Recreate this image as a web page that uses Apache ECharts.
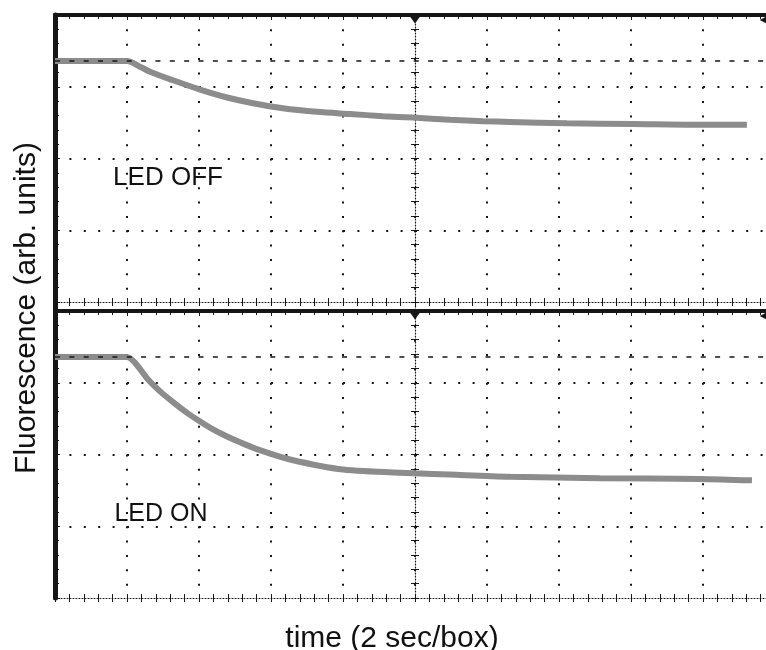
<!DOCTYPE html>
<html>
<head>
<meta charset="utf-8">
<script src="https://cdn.jsdelivr.net/npm/echarts@6/dist/echarts.min.js"></script>
<style>
  html, body { margin: 0; padding: 0; background: #fff; }
  #chart { width: 766px; height: 650px; }
</style>
</head>
<body>
<div id="chart"></div>
<script>
// time in seconds (2 s per box, trigger at 0), level in screen divisions
const offTime  = [-10, -8, -7.64, -7.36, -6.72, -5.97, -5.22, -4.5, -3.67, -2.72, -1.81, -0.89, -0.06, 0.97, 1.89, 2.64, 4.22, 6.06, 7.92, 9.22];
const offLevel = [3.36, 3.36, 3.28, 3.21, 3.09, 2.96, 2.85, 2.77, 2.70, 2.65, 2.62, 2.59, 2.57, 2.54, 2.52, 2.51, 2.49, 2.48, 2.47, 2.47];

const onTime  = [-10, -8, -7.78, -7.44, -7.08, -6.72, -6.33, -5.97, -5.61, -5.22, -4.86, -4.31, -3.47, -2.0, -0.03, 0.97, 2.64, 5.14, 7.92, 9.36];
const onLevel = [3.36, 3.36, 3.28, 3.06, 2.88, 2.73, 2.58, 2.46, 2.35, 2.25, 2.17, 2.06, 1.93, 1.79, 1.74, 1.72, 1.69, 1.67, 1.66, 1.64];

const cursorLevel = 3.36;
const panelLabels = ["LED OFF", "LED ON"];
const xTitle = "time (2 sec/box)";
const yTitle = "Fluorescence (arb. units)";

const ink = "#161616";
const traceColor = "#8c8c8c";
const font = '"Liberation Sans", Arial, sans-serif';
const panelTop = [15, 311];
const panelHeight = 287;
const tickStyle = { color: ink, width: 1 };
const minor = { show: true, splitNumber: 5, length: 4, lineStyle: tickStyle };

const grid = [], xAxis = [], yAxis = [], series = [];
const traces = [[offTime, offLevel], [onTime, onLevel]];

panelTop.forEach((top, p) => {
  grid.push({ left: 55, right: -9, top: top, height: panelHeight, outerBoundsMode: "none" });
  const xb = { gridIndex: p, type: "value", min: -10, max: 10, interval: 2, axisLabel: { show: false } };
  const gx = xAxis.length;
  xAxis.push(
    // centre graticule line along the bottom, ticks down
    Object.assign({}, xb, {
      position: "bottom",
      axisLine: { show: true, onZero: false, lineStyle: { color: ink, width: 1, type: [1, 2] } },
      axisTick: { show: true, length: 4, lineStyle: tickStyle },
      minorTick: minor,
      splitLine: { show: true, showMinLine: false, lineStyle: { color: ink, width: 2, type: [2, 12.35] } }
    }),
    // same line, ticks up
    Object.assign({}, xb, {
      position: "bottom",
      axisLine: { show: false, onZero: false },
      axisTick: { show: true, inside: true, length: 4, lineStyle: tickStyle },
      minorTick: minor,
      splitLine: { show: false }
    }),
    // screen top border
    Object.assign({}, xb, {
      position: "top",
      axisLine: { show: true, onZero: false, lineStyle: { color: ink, width: 4 } },
      axisTick: { show: true, inside: true, length: 5, lineStyle: tickStyle },
      minorTick: minor,
      splitLine: { show: false }
    })
  );
  const yb = { gridIndex: p, type: "value", min: 0, max: 4, interval: 1, axisLabel: { show: false } };
  const gy = yAxis.length;
  yAxis.push(
    Object.assign({}, yb, {
      position: "left",
      axisLine: { show: true, onZero: false, lineStyle: { color: ink, width: 4 } },
      axisTick: { show: true, inside: true, length: 5, lineStyle: tickStyle },
      minorTick: minor,
      splitLine: { show: true, showMinLine: false, showMaxLine: false, lineStyle: { color: ink, width: 2, type: [2, 12.4] } }
    }),
    // vertical centre line crosses
    Object.assign({}, yb, {
      position: "left",
      axisLine: { show: false, onZero: true, onZeroAxisIndex: gx },
      axisTick: { show: true, length: 4, lineStyle: tickStyle },
      minorTick: minor,
      splitLine: { show: false }
    }),
    Object.assign({}, yb, {
      position: "right",
      axisLine: { show: false, onZero: true, onZeroAxisIndex: gx },
      axisTick: { show: true, length: 4, lineStyle: tickStyle },
      minorTick: minor,
      splitLine: { show: false }
    })
  );
  const [t, v] = traces[p];
  series.push({
    type: "line",
    xAxisIndex: gx,
    yAxisIndex: gy,
    data: t.map((x, i) => [x, v[i]]),
    showSymbol: false,
    smooth: 0.3,
    z: 3,
    lineStyle: { color: traceColor, width: 6 },
    markLine: {
      silent: true, symbol: "none", label: { show: false },
      lineStyle: { color: ink, width: 1.6, type: [5, 9.35] },
      data: [{ yAxis: cursorLevel }]
    },
    markPoint: {
      silent: true, label: { show: false }, itemStyle: { color: ink },
      data: [
        { coord: [0, 4], symbol: "triangle", symbolSize: [13, 9], symbolRotate: 180, symbolOffset: [0, 4] },
        { coord: [9.7, 3.93], symbol: "triangle", symbolSize: [9, 9], symbolRotate: 90 }
      ]
    }
  });
});

// full-height frame: left border and centre line through the gap
grid.push({ left: 55, right: -9, top: 15, height: 583, outerBoundsMode: "none" });
const fx = xAxis.length;
xAxis.push({ gridIndex: 2, type: "value", min: -10, max: 10, show: false });
yAxis.push(
  { gridIndex: 2, type: "value", min: 0, max: 1, position: "left",
    axisLine: { show: true, onZero: false, lineStyle: { color: ink, width: 5 } },
    axisTick: { show: false }, axisLabel: { show: false }, splitLine: { show: false } },
  { gridIndex: 2, type: "value", min: 0, max: 1, position: "left",
    axisLine: { show: true, onZero: true, onZeroAxisIndex: fx, lineStyle: { color: ink, width: 1.2, type: [1, 2] } },
    axisTick: { show: false }, axisLabel: { show: false }, splitLine: { show: false } }
);

function label(text, x, y, size, rotation) {
  return {
    type: "text", x: x, y: y, rotation: rotation || 0, z: 10,
    style: { text: text, font: size + "px " + font, fill: "#111",
      align: "center", verticalAlign: "middle", textAlign: "center", textVerticalAlign: "middle" }
  };
}

const chart = echarts.init(document.getElementById("chart"));
chart.setOption({
  animation: false,
  backgroundColor: "#fff",
  grid: grid,
  xAxis: xAxis,
  yAxis: yAxis,
  series: series,
  graphic: [
    label(panelLabels[0], 168, 178, 26),
    label(panelLabels[1], 161, 514, 25),
    label(xTitle, 392, 639, 30),
    label(yTitle, 27, 308, 30, Math.PI / 2)
  ]
});
</script>
</body>
</html>
